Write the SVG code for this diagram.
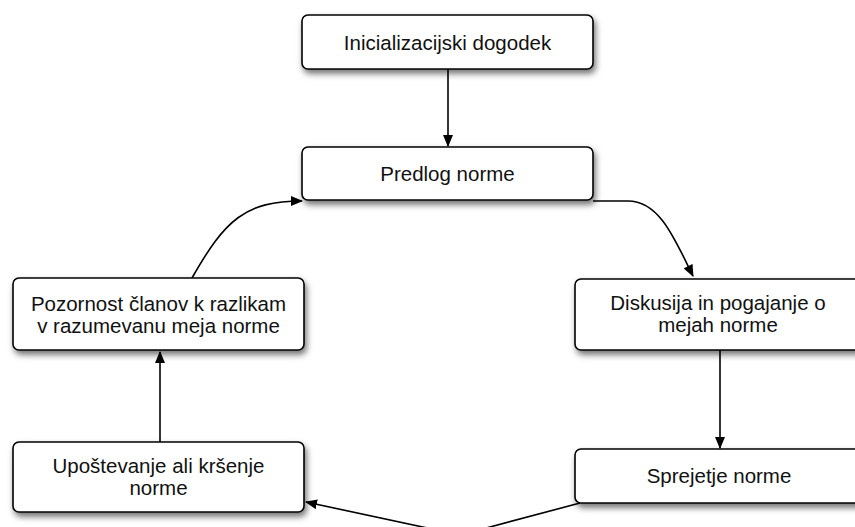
<svg xmlns="http://www.w3.org/2000/svg" width="855" height="527" viewBox="0 0 855 527">
<style>
.box{fill:#fff;stroke:#000;stroke-width:1.6;filter:url(#sh)}
.t{font-family:"Liberation Sans",Arial,sans-serif;font-size:20.5px;fill:#111;text-anchor:middle}
.c{fill:none;stroke:#000;stroke-width:1.6;marker-end:url(#ah)}
</style>
<defs>
<filter id="sh" x="-10%" y="-20%" width="130%" height="160%">
<feDropShadow dx="2" dy="4" stdDeviation="3" flood-color="#000" flood-opacity="0.55"/>
</filter>
<marker id="ah" viewBox="0 0 12 10" refX="11" refY="5" markerWidth="12" markerHeight="10" markerUnits="userSpaceOnUse" orient="auto">
<path d="M0,0 L12,5 L0,10 Z" fill="#000"/>
</marker>
</defs>
<rect width="855" height="527" fill="#fff"/>
<g id="connectors">
<path class="c" d="M448,69 L448,146"/>
<path class="c" d="M593,201 L628,201 C660,201 675,240 693,276"/>
<path class="c" d="M720,350 L720,448"/>
<path class="c" d="M580,503 L460,535 L306,502"/>
<path class="c" d="M160,442 L160,352"/>
<path class="c" d="M192,278 C225,220 245,201 302,201"/>
</g>
<g id="n1"><rect class="box" x="302" y="15" width="291" height="54" rx="6"/><text class="t" x="447.5" y="50">Inicializacijski dogodek</text></g>
<g id="n2"><rect class="box" x="302" y="147" width="291" height="53" rx="6"/><text class="t" x="447.5" y="181">Predlog norme</text></g>
<g id="n3"><rect class="box" x="575" y="279" width="290" height="71" rx="6"/><text class="t" x="718" y="310">Diskusija in pogajanje o</text><text class="t" x="718" y="332">mejah norme</text></g>
<g id="n4"><rect class="box" x="575" y="449" width="290" height="54" rx="6"/><text class="t" x="719" y="483">Sprejetje norme</text></g>
<g id="n5"><rect class="box" x="13" y="442" width="291" height="70" rx="6"/><text class="t" x="158.5" y="473">Upoštevanje ali kršenje</text><text class="t" x="158.5" y="495">norme</text></g>
<g id="n6"><rect class="box" x="13" y="278" width="291" height="72" rx="6"/><text class="t" x="158.5" y="311">Pozornost članov k razlikam</text><text class="t" x="158.5" y="333">v razumevanu meja norme</text></g>
</svg>
